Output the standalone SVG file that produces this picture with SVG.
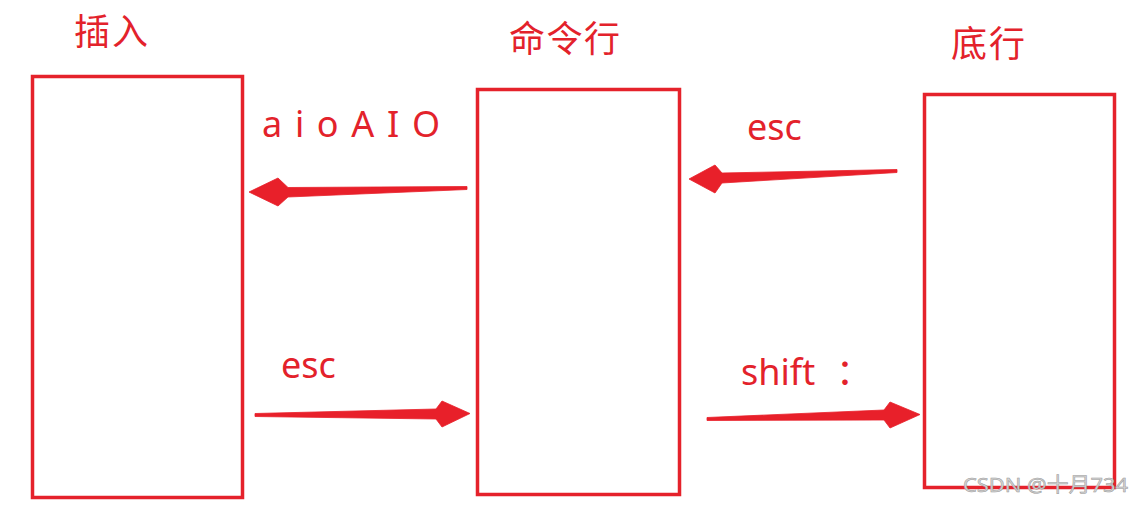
<svg xmlns="http://www.w3.org/2000/svg" width="1132" height="505" viewBox="0 0 1132 505">
  <style>
    .box { fill: none; stroke: #e5222b; stroke-width: 3.5; }
    .title { font-family: "Noto Sans CJK SC", "Noto Sans", sans-serif; font-size: 36px; fill: #e3222b; }
    .lbl { font-family: "Noto Sans", "Noto Sans CJK SC", sans-serif; font-size: 36px; fill: #e3222b; }
    .arrow { fill: #e8202a; stroke: #e8202a; stroke-width: 0.8; stroke-linejoin: round; }
    .wm { font-family: "Noto Sans", "Noto Sans CJK SC", sans-serif; font-size: 20px; fill: #d4d4d4; stroke: #9a9a9a; stroke-width: 0.5; }
  </style>
  <rect width="1132" height="505" fill="#ffffff"/>

  <g id="node-insert">
    <rect class="box" x="32.5" y="76.5" width="210" height="421"/>
    <text class="title" x="74" y="45" textLength="74">插入</text>
  </g>

  <g id="node-command">
    <rect class="box" x="477.5" y="89.5" width="202" height="405"/>
    <text class="title" x="509" y="52" textLength="111">命令行</text>
  </g>

  <g id="node-bottom">
    <rect class="box" x="924.5" y="94.5" width="190" height="393"/>
    <text class="title" x="951" y="57" textLength="74">底行</text>
  </g>

  <g id="connectors">
    <polygon class="arrow" points="467,186.5 288,187.5 278,178 249,192 278,206 288,197 467,189.5"/>
    <polygon class="arrow" points="897,169.5 722,173 715,165 689,179 715,193 722,183 897,172.5"/>
    <polygon class="arrow" points="255,413.5 436,409 442,401 470,413.5 442,427 436,419 255,416.5"/>
    <polygon class="arrow" points="707,417.5 884,410 890,402 920,414.5 890,428 884,420 707,420.5"/>
    <text class="lbl" x="262" y="137" textLength="178" lengthAdjust="spacing">a i o A I O</text>
    <text class="lbl" x="747" y="140">esc</text>
    <text class="lbl" x="281" y="378">esc</text>
    <text class="lbl" x="741" y="385">shift <tspan x="836">：</tspan></text>
  </g>

  <text class="wm" x="963" y="492" textLength="165" lengthAdjust="spacingAndGlyphs">CSDN @十月734</text>
</svg>
